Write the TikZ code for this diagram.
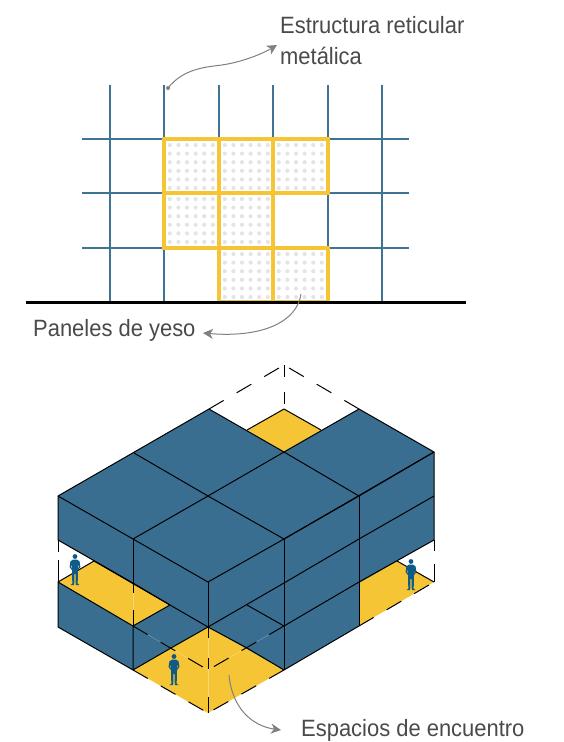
\documentclass[tikz,border=0pt]{standalone}
\usepackage{fontspec}
\setmainfont[FakeStretch=0.93]{Liberation Sans}
\usetikzlibrary{arrows.meta,calc}
\definecolor{gridblue}{HTML}{3F7396}
\definecolor{blockblue}{HTML}{3A6E90}
\definecolor{panelyellow}{HTML}{F5C535}
\definecolor{dotgray}{HTML}{E4E4E4}
\definecolor{notegray}{HTML}{808080}
\definecolor{textgray}{HTML}{4A4A4A}
\definecolor{workerblue}{HTML}{0F5A86}
\tikzset{
  gridline/.style={gridblue,line width=2pt},
  panel/.style={panelyellow,line width=3.2pt},
  edge/.style={black,line width=1pt,line join=round},
  hidden/.style={black,line width=1pt,dash pattern=on 17pt off 15pt},
  pale/.style={white,opacity=0.3,line width=0.5pt},
  note/.style={notegray,line width=1pt,-{Stealth[length=10pt,width=10pt,inset=3pt]}},
  label/.style={textgray,font=\fontsize{23.6}{32}\selectfont,inner sep=0pt,anchor=base west},
  pics/worker/.style={code={
    \fill[workerblue] (0,-28.5) circle (2.4);
    \fill[workerblue,even odd rule] (-2,-25.5) -- (2,-25.5) -- (4.6,-23.5) -- (5.4,-18) -- (2.8,-14.5) -- (3,-9)
      -- (2.6,-1.5) -- (4.4,0) -- (0.8,0) -- (0.5,-11) -- (-0.5,-11) -- (-0.8,0) -- (-4.4,0) -- (-2.6,-1.5) -- (-3,-9)
      -- (-2.8,-14.5) -- (-5.4,-18) -- (-4.6,-23.5) -- cycle
      (-3.4,-21) -- (-4,-18) -- (-2.9,-16.8) -- cycle (3.4,-21) -- (4,-18) -- (2.9,-16.8) -- cycle;
  }}
}
\begin{document}
\begin{tikzpicture}[x=1pt,y=-1pt]
    \useasboundingbox (0,0) rectangle (563,742);

    % alzado
    \foreach \i/\j in {164/139,219/139,273/139,164/193,219/193,219/248,273/248}{
      \foreach \a in {0,...,5}{
        \foreach \b in {0,...,5}{
          \fill[dotgray] ({\i+5.8+\a*8.6},{\j+6+\b*8.6}) circle (2.1);
        }
      }
    }
    \foreach \i in {110,164,219,273,328,382}{
      \draw[gridline] (\i,85)--(\i,302);
    }
    \foreach \j in {139,193,248}{
      \draw[gridline] (82,\j)--(409,\j);
    }
    \draw[panel] (164,139)--(328,139)--(328,193)--(164,193)--cycle;
    \draw[panel] (164,193)--(164,248)--(273,248)--(273,193);
    \draw[panel] (219,139)--(219,302);
    \draw[panel] (273,139)--(273,193);
    \draw[panel] (219,302)--(328,302)--(328,248)--(273,248)--(273,302);
    \draw[black,line width=2.4pt] (26,302.5)--(465.5,302.5);

    % vertices del bloque
    \coordinate (L1) at (58,496);
    \coordinate (L2) at (58,540);
    \coordinate (L3) at (58,582);
    \coordinate (L4) at (58,627);
    \coordinate (T1) at (209,409);
    \coordinate (T2) at (284,452);
    \coordinate (T3) at (359,409);
    \coordinate (R1) at (434,452);
    \coordinate (R2) at (434,496);
    \coordinate (R3) at (434,540);
    \coordinate (R4) at (434,582);
    \coordinate (M1) at (134,453);
    \coordinate (M2) at (208,496);
    \coordinate (M3) at (359,496);
    \coordinate (F1) at (133,539);
    \coordinate (F2) at (133,583);
    \coordinate (F3) at (133,626);
    \coordinate (F4) at (133,670);
    \coordinate (C1) at (208,582);
    \coordinate (C2) at (208,627);
    \coordinate (C3) at (208,670);
    \coordinate (C4) at (208,713);
    \coordinate (D1) at (284,539);
    \coordinate (D2) at (284,583);
    \coordinate (D3) at (284,626);
    \coordinate (D4) at (284,670);
    \coordinate (E1) at (359,539);
    \coordinate (E2) at (359,582);
    \coordinate (E3) at (359,626);
    \coordinate (A) at (284,365);
    \coordinate (Y1) at (247,430);
    \coordinate (Y2) at (284,409);
    \coordinate (Y3) at (321,430);
    \coordinate (G1) at (94,561);
    \coordinate (G2) at (170,605);
    \coordinate (G3) at (171,648);
    \coordinate (H1) at (247,605);
    \coordinate (H2) at (247,648);
    \coordinate (K1) at (397,561);

    % pisos amarillos
    \fill[panelyellow] (Y1)--(Y2)--(Y3)--(T2)--cycle;
    \fill[panelyellow] (L3)--(G1)--(G2)--(F3)--cycle;
    \fill[panelyellow] (E2)--(K1)--(R4)--(E3)--cycle;
    \fill[panelyellow] (F4)--(C2)--(D4)--(C4)--cycle;

    % caras azules
    \fill[blockblue] (L1)--(T1)--(T2)--(T3)--(R1)--(R3)--(D3)--(C2)--(L2)--cycle;
    \fill[blockblue] (L3)--(F3)--(G2)--(C2)--(F4)--(L4)--cycle;
    \fill[blockblue] (C2)--(H1)--(D3)--(E2)--(E3)--(D4)--cycle;

    % aristas
    \draw[edge] (L1)--(T1)--(T2)--(T3)--(R1)--(D1)--(C1)--(F1)--cycle;
    \draw[edge] (M1)--(M2)--(D1);
    \draw[edge] (T2)--(M2)--(F1);
    \draw[edge] (T2)--(M3)--(R1);
    \draw[edge] (M3)--(D1);
    \draw[edge] (Y1)--(Y2)--(Y3);
    \draw[edge] (L1)--(L2)--(F2)--(G2)--(C2);
    \draw[edge] (C2)--(D2)--(E1)--(R2);
    \draw[edge] (R1)--(R3)--(E2)--(D3)--(H1);
    \draw[edge] (L3)--(G1);
    \draw[edge] (G1)--(G2);
    \draw[edge] (R4)--(K1);
    \draw[edge] (L3)--(L4)--(F4)--(F3)--cycle;
    \draw[edge] (F3)--(G2);
    \draw[edge] (F4)--(G3)--(C2)--(H2);
    \draw[edge] (H2)--(D4);
    \draw[edge] (D4)--(E3);
    \draw[edge] (F1)--(F2);
    \draw[edge] (C1)--(C2);
    \draw[edge] (D1)--(D4);
    \draw[edge] (M3)--(E3);

    % lineas ocultas
    \draw[pale] (F2)--(F3);
    \draw[pale] (C2)--(C4);
    \draw[pale] (F3)--(C3)--(D3);
    \draw[hidden] (T3)--(A);
    \draw[hidden] (T1)--(A);
    \draw[hidden,dash pattern=on 12pt off 15pt] (A)--(Y2);
    \draw[hidden,dash pattern=on 12pt off 8pt on 22pt off 10pt] (L2)--(L3);
    \draw[hidden,dash pattern=on 11pt off 13pt on 18pt off 10pt] (R3)--(R4);
    \draw[hidden,dash pattern=on 10pt off 17pt on 16pt off 10pt] (F2)--(F3);
    \draw[hidden,dash pattern=on 11pt off 20pt on 11pt off 28pt on 16pt off 10pt] (C2)--(C4);
    \draw[hidden] (F3)--(C3);
    \draw[hidden] (D3)--(C3);
    \draw[hidden] (F4)--(C4);
    \draw[hidden] (D4)--(C4);
    \draw[hidden] (E3)--(R4);

    \pic at (75,585) {worker};
    \pic at (174,685) {worker};
    \pic at (411,590) {worker};

    % notas
    \node[label] (estructura) at (280,33) {Estructura reticular};
    \node[label] (metalica) at (280,64) {metálica};
    \node[label] (paneles) at (33,336) {Paneles de yeso};
    \node[label] (espacios) at (301,736) {Espacios de encuentro};

    \coordinate (N1) at (168,88);
    \coordinate (N2) at (277,45);
    \coordinate (N3) at (301,294);
    \coordinate (N4) at (203,333);
    \coordinate (N5) at (229,675);
    \coordinate (N6) at (281,730);
    \fill[notegray] (N1) circle (2);
    \draw[note] (N1) .. controls (183,69) and (205,67) .. (222,65) .. controls (242,62) and (262,54) .. (N2);
    \draw[note] (N3) .. controls (297,322) and (262,338) .. (N4);
    \draw[note] (N5) .. controls (232,708) and (252,726) .. (N6);
\end{tikzpicture}
\end{document}
